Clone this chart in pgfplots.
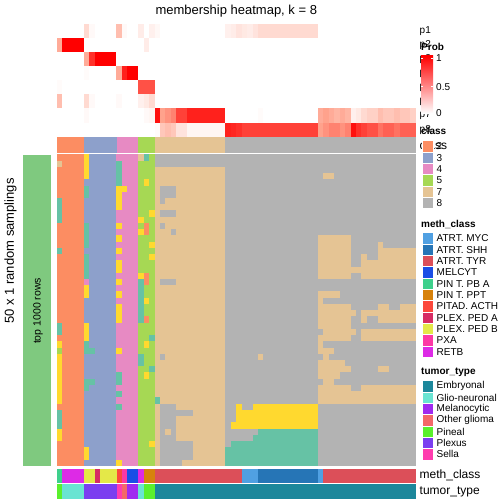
\documentclass[border=0pt]{standalone}
\usepackage{pgfplots}
\pgfplotsset{compat=1.18}
\usepackage{pgfplotstable}
\usepackage{fontspec}
\setmainfont{Liberation Sans}
\newcommand\fs[1]{\fontsize{#1bp}{#1bp}\selectfont}
\definecolor{k1}{RGB}{102,194,165}
\definecolor{k2}{RGB}{252,141,98}
\definecolor{k3}{RGB}{141,160,203}
\definecolor{k4}{RGB}{231,138,195}
\definecolor{k5}{RGB}{166,216,84}
\definecolor{k6}{RGB}{255,217,47}
\definecolor{k7}{RGB}{229,196,148}
\definecolor{k8}{RGB}{179,179,179}
\definecolor{mMYC}{RGB}{80,160,226}
\definecolor{mSHH}{RGB}{38,117,182}
\definecolor{mTYR}{RGB}{220,79,89}
\definecolor{mMEL}{RGB}{26,78,230}
\definecolor{mPBA}{RGB}{62,208,140}
\definecolor{mPPT}{RGB}{215,130,12}
\definecolor{mPIT}{RGB}{252,72,60}
\definecolor{mPLA}{RGB}{214,44,100}
\definecolor{mPLB}{RGB}{228,232,72}
\definecolor{mPXA}{RGB}{252,56,165}
\definecolor{mRET}{RGB}{221,42,230}
\definecolor{tEMB}{RGB}{28,135,155}
\definecolor{tGLI}{RGB}{105,228,210}
\definecolor{tMEL}{RGB}{160,42,240}
\definecolor{tOTH}{RGB}{244,104,104}
\definecolor{tPIN}{RGB}{90,240,45}
\definecolor{tPLX}{RGB}{123,62,240}
\definecolor{tSEL}{RGB}{255,60,175}
\definecolor{sidegreen}{RGB}{127,201,127}
\definecolor{midred}{RGB}{255,162,140}

\pgfdeclareplotmark{maincell}{\pgfpathrectangle{\pgfpoint{-2.8bp}{-3.2bp}}{\pgfpoint{5.6bp}{6.4bp}}\pgfusepathqfill}
\pgfdeclareplotmark{memcell}{\pgfpathrectangle{\pgfpoint{-2.8bp}{-7.15bp}}{\pgfpoint{5.6bp}{14.3bp}}\pgfusepathqfill}

% 50 random samplings (rows) x 66 samples (columns): predicted class
\pgfplotstableread[header=false]{
2 2 2 2 2 6 3 3 3 3 3 4 4 4 4 7 1 5 8 8 8 8 8 8 8 8 8 8 8 8 8 8 8 8 8 8 8 8 8 8 8 8 8 8 8 8 8 8 8 8 8 8 8 8 8 8 8 8 8 8 8 8 8 8 8 8
7 2 2 2 2 6 3 3 3 3 3 1 4 4 4 5 5 5 8 8 8 8 8 8 8 8 8 8 8 8 8 8 8 8 8 8 8 8 8 8 8 8 8 8 8 8 8 8 8 8 8 8 8 8 8 8 8 8 8 8 8 8 8 8 8 8
2 2 2 2 2 6 3 3 3 3 3 1 4 4 4 5 5 5 7 7 7 7 7 7 7 7 7 7 7 7 7 8 8 8 8 8 8 8 8 8 8 8 8 8 8 8 8 8 8 8 8 8 8 8 8 8 8 8 8 8 8 8 8 8 8 8
2 2 2 2 2 6 3 3 3 3 3 1 4 4 4 5 5 5 7 7 7 7 7 7 7 7 7 7 7 7 7 8 8 8 8 8 8 8 8 8 8 8 8 8 8 8 8 8 8 7 7 8 8 8 8 8 8 8 8 8 8 8 8 8 8 8
2 2 2 2 2 3 3 3 3 3 3 1 4 4 4 5 6 5 7 7 7 7 7 7 7 7 7 7 7 7 7 8 8 8 8 8 8 8 8 8 8 8 8 8 8 8 8 8 8 8 8 8 8 8 8 8 8 8 8 8 8 8 8 8 8 8
2 2 2 2 2 1 3 3 3 3 3 6 6 4 4 5 5 5 7 8 8 8 7 7 7 7 7 7 7 7 7 8 8 8 8 8 8 8 8 8 8 8 8 8 8 8 8 8 8 8 8 8 8 8 8 8 8 8 8 8 8 8 8 8 8 8
2 2 2 2 2 1 3 3 3 3 3 6 4 4 4 5 5 5 7 8 8 8 7 7 7 7 7 7 7 7 7 8 8 8 8 8 8 8 8 8 8 8 8 8 8 8 8 8 8 8 8 8 8 8 8 8 8 8 8 8 8 8 8 8 8 8
1 2 2 2 2 3 3 3 3 3 3 6 4 4 4 5 5 5 7 8 7 7 7 7 7 7 7 7 7 7 7 8 8 8 8 8 8 8 8 8 8 8 8 8 8 8 8 8 8 8 8 8 8 8 8 8 8 8 8 8 8 8 8 8 8 8
1 2 2 2 2 3 3 3 3 3 3 6 4 4 4 5 5 5 7 7 7 7 7 7 7 7 7 7 7 7 7 8 8 8 8 8 8 8 8 8 8 8 8 8 8 8 8 8 8 8 8 8 8 8 8 8 8 8 8 8 8 8 8 8 8 8
1 2 2 2 2 3 3 3 3 3 3 4 4 4 4 5 5 6 7 8 8 8 7 7 7 7 7 7 7 7 7 8 8 8 8 8 8 8 8 8 8 8 8 8 8 8 8 8 8 8 8 8 8 8 8 8 8 8 8 8 8 8 8 8 8 8
1 2 2 2 2 3 3 3 3 3 3 4 4 4 4 6 5 5 7 7 7 7 7 7 7 7 7 7 7 7 7 8 8 8 8 8 8 8 8 8 8 8 8 8 8 8 8 8 8 8 8 8 8 8 8 8 8 8 8 8 8 8 8 8 8 8
2 2 2 2 2 1 3 3 3 3 3 6 4 4 4 5 2 5 7 8 7 7 7 7 7 7 7 7 7 7 7 8 8 8 8 8 8 8 8 8 8 8 8 8 8 8 8 8 8 8 8 8 8 8 8 8 8 8 8 8 8 8 8 8 8 8
2 2 2 2 2 1 3 3 3 3 3 4 4 4 4 6 2 5 7 7 7 8 7 7 7 7 7 7 7 7 7 8 8 8 8 8 8 8 8 8 8 8 8 8 8 8 8 8 8 8 8 8 8 8 8 8 8 8 8 8 8 8 8 8 8 8
2 2 2 2 2 1 3 3 3 3 3 6 4 4 4 5 5 5 7 7 7 7 7 7 7 7 7 7 7 7 7 8 8 8 8 8 8 8 8 8 8 8 8 8 8 8 8 8 7 7 7 7 7 7 8 8 8 8 8 8 8 8 8 8 8 8
2 2 2 2 2 1 3 3 3 3 3 4 4 4 4 5 5 6 7 7 7 7 7 7 7 7 7 7 7 7 7 8 8 8 8 8 8 8 8 8 8 8 8 8 8 8 8 8 7 7 7 7 7 7 8 8 8 8 8 7 8 8 8 8 8 8
1 2 2 2 2 3 3 3 3 3 3 6 4 4 4 5 5 5 7 7 7 7 7 7 7 7 7 7 7 7 7 8 8 8 8 8 8 8 8 8 8 8 8 8 8 8 8 8 7 7 7 7 7 7 8 8 8 8 8 7 7 7 7 7 7 7
2 2 2 2 2 1 3 3 3 3 3 4 4 4 4 5 5 6 7 7 7 7 7 7 7 7 7 7 7 7 7 8 8 8 8 8 8 8 8 8 8 8 8 8 8 8 8 8 7 7 7 7 7 7 8 8 7 8 8 7 7 7 7 7 7 7
2 2 2 2 2 1 3 3 3 3 3 6 4 4 4 5 5 5 7 7 7 7 7 7 7 7 7 7 7 7 7 8 8 8 8 8 8 8 8 8 8 8 8 8 8 8 8 8 7 7 7 7 7 7 8 8 7 7 7 7 7 7 7 7 7 7
2 2 2 2 2 1 3 3 3 3 3 6 4 4 4 5 5 5 7 7 7 7 7 7 7 7 7 7 7 7 7 8 8 8 8 8 8 8 8 8 8 8 8 8 8 8 8 8 7 7 7 7 7 7 7 7 7 7 7 7 7 7 7 7 7 7
2 2 2 2 2 1 3 3 3 3 3 4 4 4 4 6 2 5 7 7 7 7 7 7 7 7 7 7 7 7 7 8 8 8 8 8 8 8 8 8 8 8 8 8 8 8 8 8 7 7 7 7 7 7 8 8 7 7 7 7 7 7 7 7 7 7
2 2 2 2 2 4 3 3 3 3 3 6 4 4 4 1 2 5 7 8 8 8 7 7 7 7 7 7 7 7 7 8 8 8 8 8 8 8 8 8 8 8 8 8 8 8 8 8 8 8 8 8 8 8 8 8 8 8 8 8 8 8 8 8 8 8
2 2 2 2 2 6 3 3 3 3 3 4 4 4 4 1 5 5 7 7 7 7 7 7 7 7 7 7 7 7 7 8 8 8 8 8 8 8 8 8 8 8 8 8 8 8 8 8 8 8 8 8 8 8 8 8 8 8 8 8 8 8 8 8 8 8
2 2 2 2 2 6 3 3 3 3 3 6 4 4 4 1 5 5 7 7 7 7 7 7 7 7 7 7 7 7 7 8 8 8 8 8 8 8 8 8 8 8 8 8 8 8 8 8 7 7 7 7 8 8 8 8 8 8 8 8 8 8 8 8 8 8
2 2 2 2 2 3 3 3 3 3 3 4 4 4 4 1 6 5 7 7 7 7 7 7 7 7 7 7 7 7 7 8 8 8 8 8 8 8 8 8 8 8 8 8 8 8 8 8 7 8 8 8 8 8 8 8 8 8 8 8 8 8 8 8 8 8
2 2 2 2 2 3 3 3 3 3 3 6 4 4 4 1 5 5 7 7 7 7 7 7 7 7 7 7 7 7 7 8 8 8 8 8 8 8 8 8 8 8 8 8 8 8 8 8 7 7 7 7 7 7 8 8 8 8 8 7 7 8 8 7 7 7
2 2 2 2 2 3 3 3 3 3 3 6 4 4 4 1 5 5 7 7 7 7 7 7 7 7 7 7 7 7 7 8 8 8 8 8 8 8 8 8 8 8 8 8 8 8 8 8 7 7 7 7 7 7 7 8 7 7 7 7 7 7 7 7 7 7
2 2 2 2 2 3 3 3 3 3 3 6 4 4 4 1 2 5 7 7 7 7 7 7 7 7 7 7 7 7 7 8 8 8 8 8 8 8 8 8 8 8 8 8 8 8 8 8 7 7 7 7 7 7 8 8 7 8 8 7 7 7 7 7 7 7
1 2 2 2 2 6 3 3 3 3 3 4 4 4 4 5 5 5 7 7 7 7 7 7 7 7 7 7 7 7 7 8 8 8 8 8 8 8 8 8 8 8 8 8 8 8 8 8 7 7 7 7 7 7 8 8 8 8 8 8 8 8 8 8 8 8
1 2 2 2 2 6 3 3 3 3 3 4 4 4 4 5 5 5 7 7 7 7 7 7 7 7 7 7 7 7 7 8 8 8 8 8 8 8 8 8 8 8 8 8 8 8 8 8 8 7 7 7 7 7 7 8 7 7 7 7 7 7 7 7 7 7
2 2 2 2 2 6 3 3 3 3 3 4 4 4 4 5 5 1 7 7 7 7 7 7 7 7 7 7 7 7 7 8 8 8 8 8 8 8 8 8 8 8 8 8 8 8 8 8 7 7 7 7 7 7 8 8 7 7 7 7 7 7 7 7 7 7
6 2 2 2 2 1 3 3 3 3 3 4 4 4 4 5 6 5 7 7 7 7 7 7 7 7 7 7 7 7 7 8 8 8 8 8 8 8 8 8 8 8 8 8 8 8 8 8 7 8 8 8 8 8 8 8 8 8 8 8 8 8 8 8 8 8
5 2 2 2 2 1 1 3 3 3 3 6 4 4 4 5 5 5 7 7 7 7 7 7 7 7 7 7 7 7 7 8 8 8 8 8 8 8 8 8 8 8 8 8 8 8 8 8 7 7 7 8 8 8 8 8 8 8 8 8 8 8 8 8 8 8
6 2 2 2 2 3 3 3 3 3 3 4 4 4 4 1 5 5 7 8 7 7 7 7 7 7 7 7 7 7 7 8 8 8 8 8 8 7 8 8 8 8 8 8 8 8 8 8 8 7 8 8 8 8 8 8 8 8 8 8 8 8 8 8 8 8
6 2 2 2 2 3 3 3 3 3 3 4 4 4 4 1 5 5 7 7 7 7 7 7 7 7 7 7 7 7 7 8 8 8 8 8 8 8 8 8 8 8 8 8 8 8 8 8 7 7 7 7 7 8 8 8 8 8 8 8 8 8 8 8 8 8
6 2 2 2 2 3 3 3 3 3 3 4 4 4 4 5 5 1 7 7 7 7 7 7 7 7 7 7 7 7 7 8 8 8 8 8 8 8 8 8 8 8 8 8 8 8 8 8 7 7 7 7 7 7 8 8 8 8 8 7 7 8 8 8 8 8
6 2 2 2 2 3 3 3 3 3 3 1 4 4 4 5 6 5 7 7 7 7 7 7 7 7 7 7 7 7 7 8 8 8 8 8 8 8 8 8 8 8 8 8 8 8 8 8 7 7 7 7 8 8 8 8 8 8 8 8 8 8 8 8 8 8
6 2 2 2 2 1 1 3 3 3 3 1 4 4 4 5 5 5 7 7 7 7 7 7 7 7 7 7 7 7 7 8 8 8 8 8 8 8 8 8 8 8 8 8 8 8 8 8 8 7 7 8 8 8 8 8 8 8 8 8 8 8 8 8 8 8
6 2 2 2 2 1 3 3 3 3 3 4 4 4 4 5 5 5 7 7 7 7 7 7 7 7 7 7 7 7 7 8 8 8 8 8 8 8 8 8 8 8 8 8 8 8 8 8 7 7 7 7 7 7 8 8 7 7 7 7 7 7 7 7 7 7
6 2 2 2 2 3 3 3 3 3 3 1 4 4 4 5 5 5 7 7 7 7 7 7 7 7 7 7 7 7 7 8 8 8 8 8 8 8 8 8 8 8 8 8 8 8 8 8 7 7 7 7 7 7 7 7 7 7 7 7 7 7 7 7 7 7
6 2 2 2 2 3 3 3 3 3 3 4 4 4 4 5 5 5 1 7 7 7 7 7 7 7 7 7 7 7 7 8 8 8 8 8 8 8 8 8 8 8 8 8 8 8 8 8 7 7 7 7 7 7 7 7 7 7 7 7 7 7 7 7 7 7
2 2 2 2 2 3 3 3 3 3 3 1 4 4 4 5 5 5 7 8 8 8 7 7 7 7 7 7 7 7 7 8 8 6 8 8 6 6 6 6 6 6 6 6 6 6 6 6 8 8 8 8 8 8 8 8 8 8 8 8 8 8 8 8 8 8
1 2 2 2 2 3 3 3 3 3 3 4 4 4 4 5 5 5 7 8 8 8 8 8 8 7 7 7 7 7 7 8 8 6 6 6 6 6 6 6 6 6 6 6 6 6 6 6 8 8 8 8 8 8 8 8 8 8 8 8 8 8 8 8 8 8
1 2 2 2 2 3 3 3 3 3 3 4 4 4 4 5 5 5 7 8 8 8 7 7 7 7 7 7 7 7 7 8 8 6 6 6 6 6 6 6 6 6 6 6 6 6 6 6 8 8 8 8 8 8 8 8 8 8 8 8 8 8 8 8 8 8
1 2 2 2 2 3 3 3 3 3 3 4 4 4 4 5 5 5 7 8 8 8 7 7 7 7 7 7 7 7 7 8 6 6 6 6 6 6 6 6 6 6 6 6 6 6 6 6 8 8 8 8 8 8 8 8 8 8 8 8 8 8 8 8 8 8
6 2 2 2 2 3 3 3 3 3 3 4 4 4 4 5 5 5 7 8 7 8 7 7 7 7 7 7 7 7 7 8 8 8 8 8 8 1 1 1 1 1 1 1 1 1 1 1 8 8 8 8 8 8 8 8 8 8 8 8 8 8 8 8 8 8
6 2 2 2 2 3 3 3 3 3 3 4 4 4 4 5 5 5 7 8 8 8 7 7 7 7 7 7 7 7 7 8 8 8 8 8 1 1 1 1 1 1 1 1 1 1 1 1 8 8 8 8 8 8 8 8 8 8 8 8 8 8 8 8 8 8
2 2 2 2 2 3 3 3 3 3 3 4 4 4 4 5 5 6 7 8 8 8 8 8 8 7 7 7 7 7 7 8 1 1 1 1 1 1 1 1 1 1 1 1 1 1 1 1 8 8 8 8 8 8 8 8 8 8 8 8 8 8 8 8 8 8
2 2 2 2 2 6 3 3 3 3 3 4 4 4 4 5 5 5 7 8 8 8 8 8 8 7 7 7 7 7 7 1 1 1 1 1 1 1 1 1 1 1 1 1 1 1 1 1 8 8 8 8 8 8 8 8 8 8 8 8 8 8 8 8 8 8
2 2 2 2 2 6 3 3 3 3 3 4 4 4 4 5 5 5 7 8 8 8 8 8 8 7 7 7 7 7 7 1 1 1 1 1 1 1 1 1 1 1 1 1 1 1 1 1 8 8 8 8 8 8 8 8 8 8 8 8 8 8 8 8 8 8
2 2 2 2 2 3 3 3 3 3 3 6 4 4 4 5 5 5 7 8 8 8 8 7 7 7 7 7 7 7 7 1 1 1 1 1 1 1 1 1 1 1 1 1 1 1 1 1 8 8 8 8 8 8 8 8 8 8 8 8 8 8 8 8 8 8
}\maintab

% membership probabilities p1..p8 (rows) x 66 samples (columns)
\pgfplotstableread[header=false]{
0 0 0 0 0 0.2 0.03 0 0 0 0 0.35 0.03 0 0 0.1 0 0.08 0.04 0 0 0 0 0 0 0 0 0 0 0 0 0.08 0.1 0.15 0.12 0.1 0.15 0.2 0.2 0.2 0.2 0.2 0.2 0.2 0.2 0.2 0.2 0.2 0 0 0 0 0 0 0 0 0 0 0 0 0 0 0 0 0 0
0.45 1 1 1 1 0 0 0 0 0 0 0 0 0 0 0 0.1 0 0 0 0 0 0 0 0 0 0 0 0 0 0 0 0 0 0 0 0 0 0 0 0 0 0 0 0 0 0 0 0 0 0 0 0 0 0 0 0 0 0 0 0 0 0 0 0 0
0 0 0 0 0 0.45 0.85 1 1 1 1 0 0 0 0 0 0 0 0 0 0 0 0 0 0 0 0 0 0 0 0 0 0 0 0 0 0 0 0 0 0 0 0 0 0 0 0 0 0 0 0 0 0 0 0 0 0 0 0 0 0 0 0 0 0 0
0 0 0 0 0 0.02 0 0 0 0 0 0.45 0.9 1 1 0 0 0 0 0 0 0 0 0 0 0 0 0 0 0 0 0 0 0 0 0 0 0 0 0 0 0 0 0 0 0 0 0 0 0 0 0 0 0 0 0 0 0 0 0 0 0 0 0 0 0
0.02 0 0 0 0 0 0 0 0 0 0 0 0 0 0 0.75 0.75 0.75 0 0 0 0 0 0 0 0 0 0 0 0 0 0 0 0 0 0 0 0 0 0 0 0 0 0 0 0 0 0 0 0 0 0 0 0 0 0 0 0 0 0 0 0 0 0 0 0
0.35 0 0 0 0 0.2 0.03 0 0 0 0 0.03 0 0 0 0.08 0.12 0.2 0 0 0 0 0 0 0 0 0 0 0 0 0 0 0 0 0 0 0 0 0 0 0 0 0 0 0 0 0 0 0 0 0 0 0 0 0 0 0 0 0 0 0 0 0 0 0 0
0 0 0 0 0 0.03 0 0 0 0 0 0 0 0 0 0 0.03 0.05 0.95 0.5 0.55 0.6 0.8 0.8 0.9 0.9 0.9 0.9 0.9 0.9 0.9 0 0 0 0 0 0 0.02 0 0 0 0 0 0 0 0 0 0 0.45 0.5 0.45 0.4 0.45 0.4 0.08 0.12 0.2 0.25 0.25 0.35 0.3 0.3 0.35 0.3 0.3 0.25
0 0 0 0 0 0 0 0 0 0 0 0 0 0 0 0 0 0 0.02 0.3 0.35 0.3 0.15 0.15 0.05 0.05 0.05 0.05 0.05 0.05 0.05 0.9 0.88 0.85 0.8 0.8 0.8 0.8 0.8 0.8 0.8 0.8 0.8 0.8 0.8 0.8 0.8 0.8 0.5 0.55 0.6 0.6 0.55 0.6 0.95 0.85 0.8 0.75 0.75 0.65 0.7 0.7 0.65 0.7 0.7 0.7
}\memtab

\newcommand\seg[3]{\addplot[fill=#1,draw=none] coordinates {(#2,0) (#3,0) (#3,1) (#2,1)};}
\pgfplotsset{hm/.style={scale only axis, hide axis, anchor=south west, width=359.33bp, xmin=0.5, xmax=66.5}}

\begin{document}
\begin{tikzpicture}
\path[use as bounding box] (0,0) rectangle (504bp,504bp);

% membership heatmap
\begin{axis}[hm, at={(56.67bp,367.3bp)}, height=112.7bp, ymin=0.5, ymax=8.5, y dir=reverse,
  colormap={wr}{rgb255=(255,255,255) rgb255=(255,162,140) rgb255=(255,0,0)},
  point meta min=0, point meta max=1]
\pgfplotsinvokeforeach{0,...,65}{
  \addplot[scatter, only marks, mark=memcell, point meta=explicit,
    scatter/use mapped color={fill=mapped color, draw=none}]
    table[x expr=#1+1, y expr=\coordindex+1, meta index=#1] {\memtab};
}
\end{axis}

% class annotation
\begin{axis}[hm, at={(56.67bp,351.3bp)}, height=15.4bp, ymin=0, ymax=1]
\seg{k2}{0.5}{5.5}
\seg{k3}{5.5}{11.5}
\seg{k4}{11.5}{15.5}
\seg{k5}{15.5}{18.5}
\seg{k7}{18.5}{31.5}
\seg{k8}{31.5}{66.5}
\end{axis}

% main heatmap
\begin{axis}[hm, at={(56.67bp,38bp)}, height=311.5bp, ymin=0.5, ymax=50.5, y dir=reverse]
\pgfplotsinvokeforeach{0,...,65}{
  \addplot[scatter, only marks, mark=maincell, point meta=explicit symbolic,
    scatter/classes={1={fill=k1},2={fill=k2},3={fill=k3},4={fill=k4},5={fill=k5},6={fill=k6},7={fill=k7},8={fill=k8}}]
    table[x expr=#1+1, y expr=\coordindex+1, meta index=#1] {\maintab};
}
\end{axis}

% meth_class
\begin{axis}[hm, at={(56.67bp,21.3bp)}, height=13.7bp, ymin=0, ymax=1]
\seg{mPBA}{0.5}{1.5}
\seg{mRET}{1.5}{5.5}
\seg{mPLB}{5.5}{7.5}
\seg{mPLA}{7.5}{8.5}
\seg{mPLB}{8.5}{11.5}
\seg{mPIT}{11.5}{12.5}
\seg{mPXA}{12.5}{13.5}
\seg{mMEL}{13.5}{15.5}
\seg{mRET}{15.5}{16.5}
\seg{mPPT}{16.5}{18.5}
\seg{mTYR}{18.5}{34.5}
\seg{mMYC}{34.5}{37.5}
\seg{mSHH}{37.5}{48.5}
\seg{mMYC}{48.5}{49.5}
\seg{mTYR}{49.5}{66.5}
\end{axis}

% tumor_type
\begin{axis}[hm, at={(56.67bp,5bp)}, height=15bp, ymin=0, ymax=1]
\seg{tPIN}{0.5}{1.5}
\seg{tGLI}{1.5}{5.5}
\seg{tPLX}{5.5}{11.5}
\seg{tSEL}{11.5}{12.5}
\seg{tOTH}{12.5}{13.5}
\seg{tMEL}{13.5}{15.5}
\seg{tGLI}{15.5}{16.5}
\seg{tPIN}{16.5}{18.5}
\seg{tEMB}{18.5}{66.5}
\end{axis}

\begin{scope}[x=1bp,y=1bp]
% title
\node[anchor=base, inner sep=0, font={\fs{13}}] at (236.3,489) {membership heatmap, k = 8};
% left side
\fill[sidegreen] (22.7,38) rectangle (50.7,349);
\node[rotate=90, inner sep=0, font={\fs{10.5}}] at (38,193) {top 1000 rows};
\node[rotate=90, inner sep=0, font={\fs{13}}] at (10.5,253) {50 x 1 random samplings};
% row names
\foreach \i in {1,...,8}{
  \node[anchor=west, inner sep=0, font={\fs{10}}] at (419.5,{473-14.09*(\i-1)}) {p\i};
}
\node[anchor=west, inner sep=0, font={\fs{12}}] at (419.5,359) {class};
\node[anchor=west, inner sep=0, font={\fs{12}}] at (419.5,28.2) {meth\_class};
\node[anchor=west, inner sep=0, font={\fs{12}}] at (419.5,12.5) {tumor\_type};
% Prob legend
\node[anchor=west, inner sep=0, font={\fs{10}\bfseries}] at (421,457.3) {Prob};
\shade[top color=red, middle color=midred, bottom color=white] (421,390.7) rectangle (433,448.3);
\foreach \yy in {445.7,417.3,390.9}{
  \draw[white, line width=0.5] (421,\yy) -- (423,\yy) (431,\yy) -- (433,\yy);
}
\node[anchor=west, inner sep=0, font={\fs{10}}] at (436,445.7) {1};
\node[anchor=west, inner sep=0, font={\fs{10}}] at (436,417.3) {0.5};
\node[anchor=west, inner sep=0, font={\fs{10}}] at (436,390.7) {0};
% class legend
\node[anchor=west, inner sep=0, font={\fs{10}\bfseries}] at (421,373) {class};
\foreach \c/\l [count=\i from 0] in {k2/2,k3/3,k4/4,k5/5,k7/7,k8/8}{
  \fill[\c, draw=white, line width=0.5] (422,{363.3-11.33*\i}) rectangle (433.3,{363.3-11.33*(\i+1)});
  \node[anchor=west, inner sep=0, font={\fs{10}}] at (436.5,{363.3-11.33*\i-5.67}) {\l};
}
% meth_class legend
\node[anchor=west, inner sep=0, font={\fs{10}\bfseries}] at (421,280) {meth\_class};
\foreach \c/\l [count=\i from 0] in {mMYC/ATRT. MYC,mSHH/ATRT. SHH,mTYR/ATRT. TYR,mMEL/MELCYT,mPBA/PIN T. PB A,mPPT/PIN T. PPT,mPIT/PITAD. ACTH,mPLA/PLEX. PED A,mPLB/PLEX. PED B,mPXA/PXA,mRET/RETB}{
  \fill[\c, draw=white, line width=0.5] (422,{271.3-11.33*\i}) rectangle (433.3,{271.3-11.33*(\i+1)});
  \node[anchor=west, inner sep=0, font={\fs{10}}] at (436.5,{271.3-11.33*\i-5.67}) {\l};
}
% tumor_type legend
\node[anchor=west, inner sep=0, font={\fs{10}\bfseries}] at (421,131.3) {tumor\_type};
\foreach \c/\l [count=\i from 0] in {tEMB/Embryonal,tGLI/Glio-neuronal,tMEL/Melanocytic,tOTH/Other glioma,tPIN/Pineal,tPLX/Plexus,tSEL/Sella}{
  \fill[\c, draw=white, line width=0.5] (422,{123.3-11.33*\i}) rectangle (433.3,{123.3-11.33*(\i+1)});
  \node[anchor=west, inner sep=0, font={\fs{10}}] at (436.5,{123.3-11.33*\i-5.67}) {\l};
}
\end{scope}
\end{tikzpicture}
\end{document}
